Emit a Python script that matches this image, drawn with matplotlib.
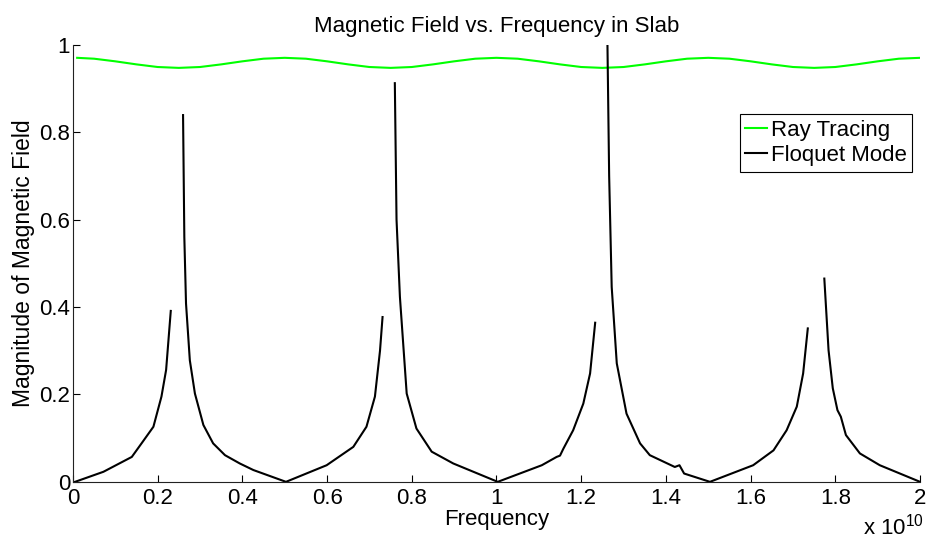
import matplotlib
matplotlib.use("Agg")
import matplotlib.pyplot as plt

plt.rcParams['font.family'] = ['Liberation Sans', 'DejaVu Sans']
plt.rcParams['mathtext.fontset'] = 'custom'
plt.rcParams['mathtext.rm'] = 'Liberation Sans'
plt.rcParams['mathtext.it'] = 'Liberation Sans'

NAN = float('nan')

# Frequency in units of 1e10 Hz
ray_freq = [0.01, 0.05, 0.10, 0.15, 0.20, 0.25, 0.30, 0.35, 0.40, 0.45,
            0.50, 0.55, 0.60, 0.65, 0.70, 0.75, 0.80, 0.85, 0.90, 0.95,
            1.00, 1.05, 1.10, 1.15, 1.20, 1.25, 1.30, 1.35, 1.40, 1.45,
            1.50, 1.55, 1.60, 1.65, 1.70, 1.75, 1.80, 1.85, 1.90, 1.95, 2.00]
ray_mag = [0.970, 0.968, 0.962, 0.955, 0.949, 0.947, 0.949, 0.955, 0.962, 0.968,
           0.970, 0.968, 0.962, 0.955, 0.949, 0.947, 0.949, 0.955, 0.962, 0.968,
           0.970, 0.968, 0.962, 0.955, 0.949, 0.947, 0.949, 0.955, 0.962, 0.968,
           0.970, 0.968, 0.962, 0.955, 0.949, 0.947, 0.949, 0.955, 0.962, 0.968, 0.970]

# NaN entries mark the breaks in the curve between the paired resonance peaks
floq_freq = [0.005, 0.072, 0.139, 0.162, 0.190, 0.209, 0.220, 0.231, 0.245,
             0.260, 0.263, 0.267, 0.276, 0.288, 0.308, 0.331, 0.359, 0.394, 0.426, 0.503,
             0.599, 0.662, 0.693, 0.713, 0.725, 0.731, 0.745,
             0.760, 0.764, 0.772, 0.788, 0.811, 0.847, 0.898, 1.003,
             1.107, 1.142, 1.150, 1.158, 1.181, 1.205, 1.221, 1.233, 1.245,
             1.262, 1.266, 1.272, 1.284, 1.307, 1.339, 1.362, 1.421, 1.432, 1.443, 1.504,
             1.606, 1.654, 1.685, 1.709, 1.724, 1.735, 1.755,
             1.774, 1.784, 1.794, 1.805, 1.813, 1.825, 1.858, 1.905, 2.000]
floq_mag = [0.000, 0.023, 0.057, 0.088, 0.126, 0.195, 0.256, 0.391, NAN,
            0.839, 0.560, 0.408, 0.278, 0.202, 0.130, 0.088, 0.061, 0.042, 0.027, 0.000,
            0.038, 0.080, 0.126, 0.195, 0.300, 0.377, NAN,
            0.912, 0.600, 0.423, 0.202, 0.122, 0.069, 0.042, 0.000,
            0.038, 0.057, 0.060, 0.076, 0.118, 0.179, 0.248, 0.364, NAN,
            1.000, 0.700, 0.446, 0.271, 0.156, 0.088, 0.061, 0.034, 0.038, 0.019, 0.000,
            0.038, 0.072, 0.118, 0.172, 0.248, 0.351, NAN,
            0.465, 0.301, 0.214, 0.164, 0.149, 0.107, 0.065, 0.038, 0.000]

xticks = [0, 0.2, 0.4, 0.6, 0.8, 1.0, 1.2, 1.4, 1.6, 1.8, 2.0]
xticklabels = ['0', '0.2', '0.4', '0.6', '0.8', '1', '1.2', '1.4', '1.6', '1.8', '2']
yticks = [0, 0.2, 0.4, 0.6, 0.8, 1.0]
yticklabels = ['0', '0.2', '0.4', '0.6', '0.8', '1']

FS = 16

fig = plt.figure(figsize=(9.35, 5.42), dpi=100)
ax = fig.add_axes([0.078, 0.111, 0.906, 0.8065])

ax.plot(ray_freq, ray_mag, color=(0, 1, 0), lw=1.5, label='Ray Tracing')
ax.plot(floq_freq, floq_mag, color='black', lw=1.5, label='Floquet Mode')

ax.set_xlim(0, 2)
ax.set_ylim(0, 1)
ax.set_xticks(xticks)
ax.set_xticklabels(xticklabels)
ax.set_yticks(yticks)
ax.set_yticklabels(yticklabels)
ax.tick_params(direction='in', length=5, width=0.8, labelsize=FS)
ax.tick_params(axis='x', pad=4.5)
ax.tick_params(axis='y', pad=2)
for s in ['top', 'right']:
    ax.spines[s].set_visible(False)
for s in ['left', 'bottom']:
    ax.spines[s].set_linewidth(0.8)
    ax.spines[s].set_color('#222222')

ax.set_title('Magnetic Field vs. Frequency in Slab', fontsize=FS, pad=9)
ax.set_xlabel('Frequency', fontsize=FS, labelpad=0)
ax.set_ylabel('Magnitude of Magnetic Field', fontsize=16.5, labelpad=3)
fig.text(863 / 935, 1 - 535 / 542, r'x 10$^{10}$', fontsize=FS,
         ha='left', va='baseline')

leg = ax.legend(loc='upper right', bbox_to_anchor=(0.9906, 0.8414), fontsize=FS,
                frameon=True, fancybox=False, edgecolor='black', framealpha=1,
                borderpad=0.25, handlelength=1.0, handletextpad=0.15,
                labelspacing=0.2, borderaxespad=0)
leg.get_frame().set_linewidth(0.8)

fig.savefig('out.png', dpi=100)
